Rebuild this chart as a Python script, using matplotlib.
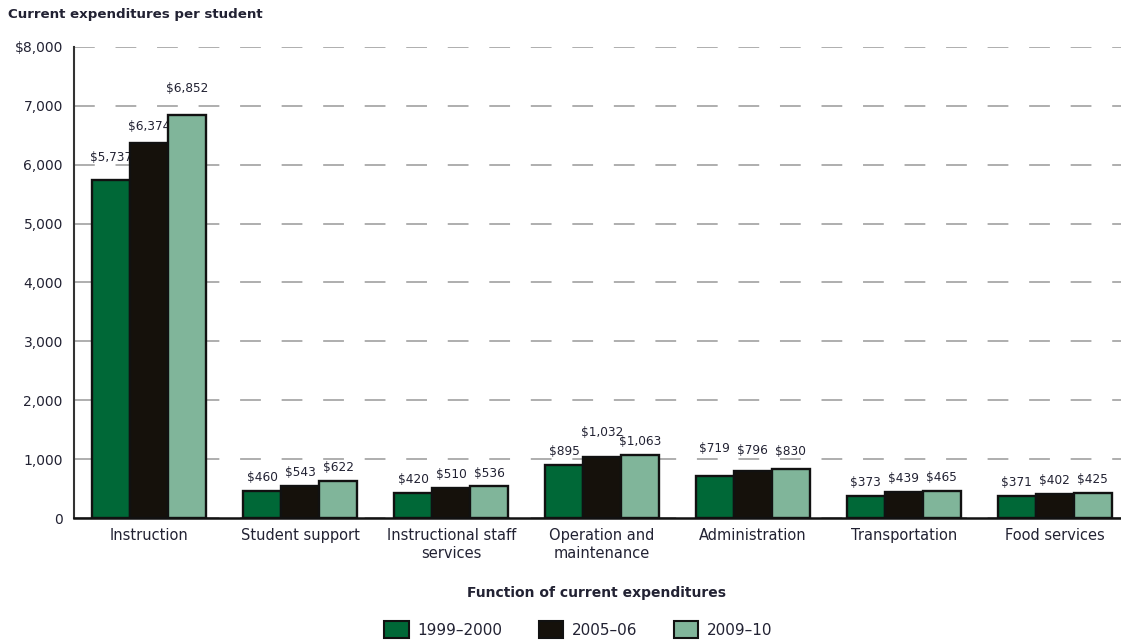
import numpy as np
import matplotlib
matplotlib.use('Agg')
import matplotlib.pyplot as plt
from matplotlib.patches import Patch

categories = ['Instruction', 'Student support', 'Instructional staff\nservices',
              'Operation and\nmaintenance', 'Administration', 'Transportation', 'Food services']
years = ['1999\u20132000', '2005\u201306', '2009\u201310']
v_1999 = [5737, 460, 420, 895, 719, 373, 371]
v_2005 = [6374, 543, 510, 1032, 796, 439, 402]
v_2009 = [6852, 622, 536, 1063, 830, 465, 425]

colors = ['#006837', '#15110b', '#80b59a']
text_color = '#222233'
# extra lift (points) for the hand-placed labels in the original
extra = [[7, 2, 9], [0, 0, 0], [0, 0, 0], [0, 8, 0], [10, 5, 3], [0, 0, 0], [0, 0, 0]]

plt.rcParams['font.family'] = ['DejaVu Sans']

fig = plt.figure(figsize=(11.21, 6.4), dpi=100)
ax = fig.add_axes([0.066, 0.1906, 0.934, 0.736])

x = np.arange(len(categories))
w = 0.252
series = [v_1999, v_2005, v_2009]
for i, vals in enumerate(series):
    xs = x + (i - 1) * w
    ax.bar(xs, vals, width=w, color=colors[i], edgecolor='#111111', linewidth=1.7, zorder=3)
    for j, v in enumerate(vals):
        ax.annotate(f'${v:,}', (xs[j], v), xytext=(0, 5 + extra[j][i]), textcoords='offset points',
                    ha='center', va='bottom', fontsize=8.7, color=text_color)

ax.set_ylim(0, 8000)
ax.set_xlim(-0.5, 6.44)
ax.set_yticks(range(0, 8001, 1000))
ax.set_yticklabels(['0'] + [f'{v:,}' for v in range(1000, 8000, 1000)] + ['$8,000'],
                   fontsize=10, color=text_color)
ax.yaxis.grid(True, color='#a8a8a8', linestyle=(0, (11.5, 11.5)), linewidth=1.3, zorder=0)
ax.tick_params(axis='y', length=0, pad=8)
ax.set_xticks(x)
ax.set_xticklabels(categories, fontsize=10.5, color=text_color, linespacing=1.3)
ax.tick_params(axis='x', length=0, pad=7)

for s in ['top', 'right']:
    ax.spines[s].set_visible(False)
ax.spines['left'].set_color('#333333')
ax.spines['left'].set_linewidth(1.5)
ax.spines['bottom'].set_color('#111111')
ax.spines['bottom'].set_linewidth(1.8)

fig.text(0.007, 0.978, 'Current expenditures per student', fontsize=9.6, fontweight='bold',
         color=text_color, va='center')
fig.text(0.532, 0.073, 'Function of current expenditures', fontsize=10, fontweight='bold',
         color=text_color, ha='center', va='center')

handles = [Patch(facecolor=c, edgecolor='#111111', linewidth=1.5) for c in colors]
fig.legend(handles, years, loc='center', bbox_to_anchor=(0.516, 0.016), ncol=3, frameon=False,
           fontsize=11, handlelength=1.6, handleheight=1.3, columnspacing=2.35,
           labelcolor=text_color, handletextpad=0.6)

fig.savefig('out.png', dpi=100)
